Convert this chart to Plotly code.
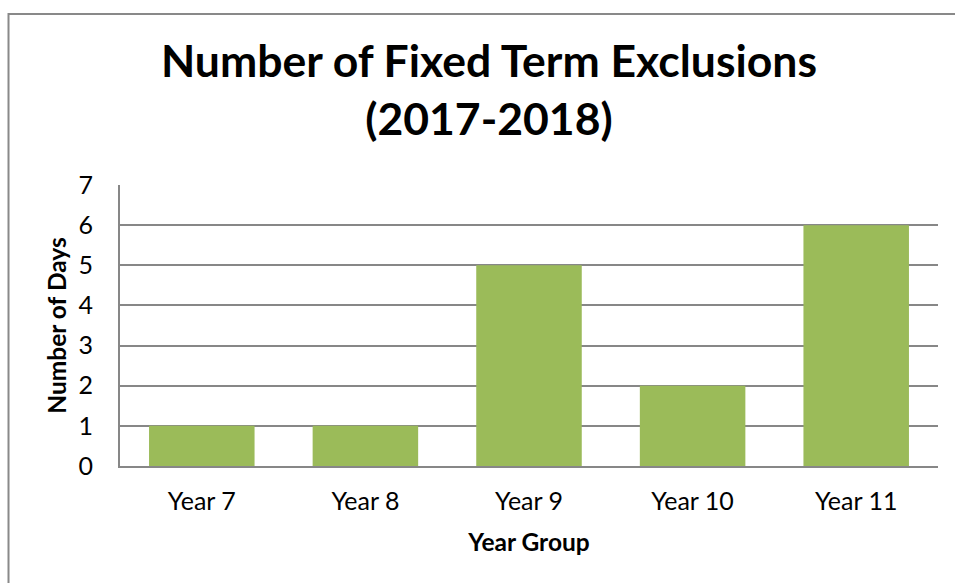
import plotly.graph_objects as go

categories = ["Year 7", "Year 8", "Year 9", "Year 10", "Year 11"]
days = [1, 1, 5, 2, 6]
y_ticks = [0, 1, 2, 3, 4, 5, 6, 7]

FONT = "Lato"
GRID = "#878787"

fig = go.Figure(go.Bar(
    x=categories, y=days,
    marker=dict(color="#9BBB59", line=dict(width=0)),
    hoverinfo="x+y",
))

fig.update_layout(
    width=955, height=583,
    margin=dict(l=120, r=17, t=185, b=117),
    paper_bgcolor="white", plot_bgcolor="white",
    bargap=0.355,
    showlegend=False,
    title=dict(
        text="Number of Fixed Term Exclusions<br>(2017-2018)",
        x=0.512, xanchor="center", xref="container",
        y=0.868, yanchor="top", yref="container",
        font=dict(family=FONT, size=44.5, color="black", weight="bold"),
    ),
    font=dict(family=FONT, color="black"),
)

fig.update_xaxes(
    showline=True, linecolor=GRID, linewidth=2,
    ticks="", tickfont=dict(size=25, family=FONT),
    ticklabelstandoff=12,
    title=dict(text="<b>Year Group</b>", font=dict(size=24.5, family=FONT), standoff=20),
)
fig.update_yaxes(
    range=[0, 7], tickvals=y_ticks,
    showline=True, linecolor=GRID, linewidth=2,
    showgrid=True, gridcolor=GRID, gridwidth=2,
    zeroline=False, ticks="",
    tickfont=dict(size=25, family=FONT),
    ticklabelstandoff=20,
    title=dict(text="<b>Number of Days</b>", font=dict(size=24.5, family=FONT), standoff=5),
)

# chart-area border (extends past the right and bottom edges of the page)
fig.add_shape(type="rect", xref="paper", yref="paper",
              x0=-0.1363, x1=1.2, y0=-0.8, y1=1.6085,
              line=dict(color="#898989", width=2), fillcolor="rgba(0,0,0,0)", layer="below")

fig.write_html("out.html")
